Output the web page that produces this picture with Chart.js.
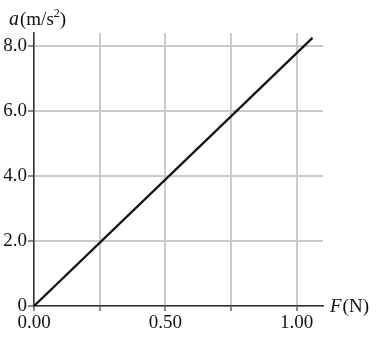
<!DOCTYPE html>
<html>
<head>
<meta charset="utf-8">
<script src="https://cdn.jsdelivr.net/npm/chart.js@4"></script>
<style>
  body { margin: 0; background: #fff; }
  #box { width: 382px; height: 337px; position: relative; }
</style>
</head>
<body>
<div id="box"><canvas id="grafica"></canvas></div>
<script>
// datos
const fuerza = [0, 1.06];
const acel = [0, 8.25];
const xTicks = [0, 0.25, 0.5, 0.75, 1.0];
const xLabels = ["0.00", "", "0.50", "", "1.00"];
const yTicks = [0, 2, 4, 6, 8];
const yLabels = ["0", "2.0", "4.0", "6.0", "8.0"];

const fuente = "'Liberation Serif', 'DejaVu Serif', serif";

// etiquetas de los ejes: a(m/s²) y F(N)
const etiquetas = {
    id: "etiquetas",
    afterDraw(c) {
        const ctx = c.ctx;
        const area = c.chartArea;
        ctx.save();
        ctx.fillStyle = "#111";
        ctx.textBaseline = "alphabetic";
        // a(m/s²)
        let x = 9, y = 25;
        ctx.font = "italic 20px " + fuente;
        ctx.fillText("a", x, y);
        x += ctx.measureText("a").width + 1;
        ctx.font = "19px " + fuente;
        ctx.fillText("(m/s", x, y);
        x += ctx.measureText("(m/s").width;
        ctx.font = "12px " + fuente;
        ctx.fillText("2", x, y - 8);
        x += ctx.measureText("2").width;
        ctx.font = "19px " + fuente;
        ctx.fillText(")", x, y);
        // F(N)
        x = area.right + 7;
        y = area.bottom + 6;
        ctx.font = "italic 19px " + fuente;
        ctx.fillText("F", x, y);
        x += ctx.measureText("F").width + 1;
        ctx.font = "19px " + fuente;
        ctx.fillText("(N)", x, y);
        ctx.restore();
    }
};

const puntos = fuerza.map((f, i) => ({ x: f, y: acel[i] }));

let chart = new Chart(document.getElementById("grafica"), {
    type: "scatter",
    data: {
        datasets: [{
            data: puntos,
            showLine: true,
            borderColor: "#111",
            borderWidth: 2.3,
            pointRadius: 0
        }]
    },
    options: {
        responsive: true,
        maintainAspectRatio: false,
        animation: false,
        layout: { padding: { left: 0, top: 33, right: 59, bottom: 0 } },
        plugins: { legend: { display: false }, tooltip: { enabled: false } },
        scales: {
            x: {
                type: "linear",
                min: 0,
                max: 1.1,
                afterBuildTicks: (s) => { s.ticks = xTicks.map(v => ({ value: v })); },
                afterFit: (s) => { s.height = 31; },
                ticks: {
                    callback: (v) => { const i = xTicks.indexOf(v); return i >= 0 ? xLabels[i] : ""; },
                    font: { family: fuente, size: 19 },
                    color: "#111",
                    padding: 1,
                    maxRotation: 0,
                    autoSkip: false
                },
                grid: { color: "#c9c9c9", lineWidth: 2, tickLength: 5, tickColor: "#8a8a8a", tickWidth: 2 },
                border: { color: "#333", width: 1.5 }
            },
            y: {
                min: 0,
                max: 8.4,
                afterBuildTicks: (s) => { s.ticks = yTicks.map(v => ({ value: v })); },
                afterFit: (s) => { s.width = 34; },
                ticks: {
                    callback: (v) => { const i = yTicks.indexOf(v); return i >= 0 ? yLabels[i] : ""; },
                    font: { family: fuente, size: 19 },
                    color: "#111",
                    padding: 1
                },
                grid: { color: "#c9c9c9", lineWidth: 2, tickLength: 6, tickColor: "#8a8a8a", tickWidth: 2 },
                border: { color: "#333", width: 1.5 }
            }
        }
    },
    plugins: [etiquetas]
});
</script>
</body>
</html>
